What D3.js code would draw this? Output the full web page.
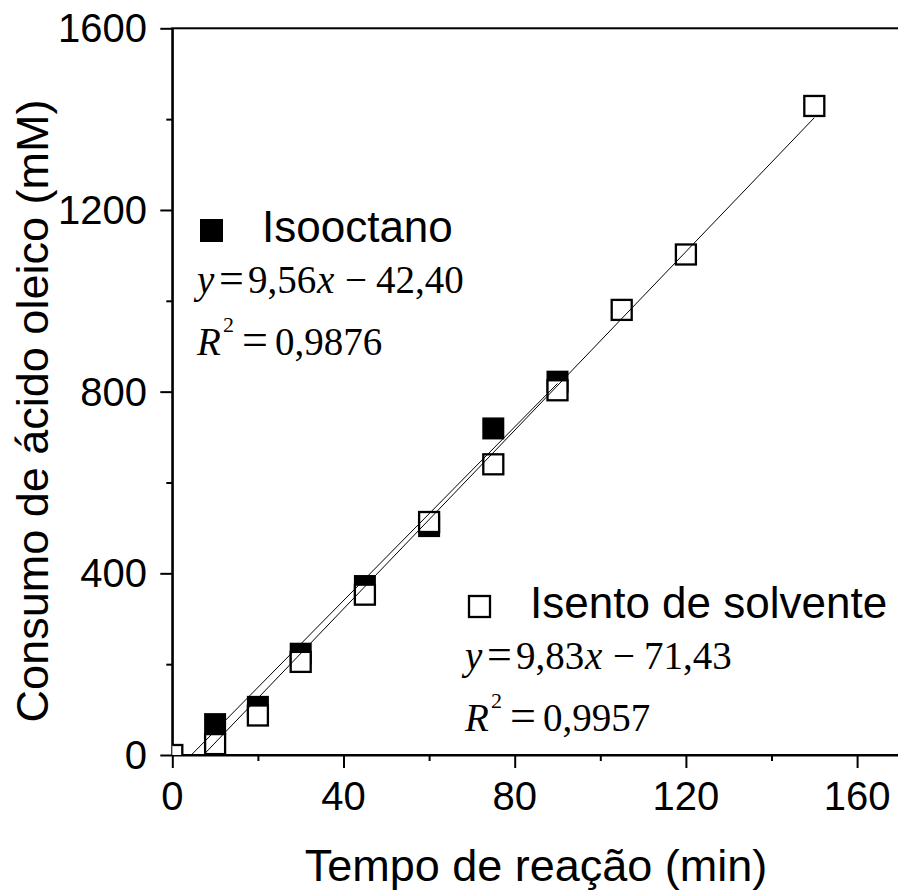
<!DOCTYPE html>
<html>
<head>
<meta charset="utf-8">
<script src="https://cdn.jsdelivr.net/npm/d3@7"></script>
<style>
    body { margin: 0; background: #fff; }
    svg { display: block; }
</style>
</head>
<body>
<div id="chart"></div>
<script>
'use strict';

// Tempo (min) e consumo de ácido oleico (mM)
var tempoIso = [10, 20, 30, 45, 60, 75, 90];
var consumoIso = [68, 106, 223, 372, 504, 719, 822];

var tempoSem = [0, 10, 20, 30, 45, 60, 75, 90, 105, 120, 150];
var consumoSem = [0, 24, 87, 205, 353, 513, 640, 803, 980, 1102, 1429];

// Ajuste linear: [inclinação, intercepto, tempo final]
var ajusteIso = [9.56, -42.40, 90];
var ajusteSem = [9.83, -71.43, 150];

var xTicks = [0, 40, 80, 120, 160];
var yTicks = [0, 400, 800, 1200, 1600];

var width = 898, height = 890;
var plotLeft = 172.3, plotRight = 899.9, plotTop = 28.3, plotBottom = 755;

var svg = d3.select("#chart")
    .append("svg")
    .attr("width", width)
    .attr("height", height);

var x = d3.scaleLinear().domain([0, 170]).range([plotLeft, plotRight]);
var y = d3.scaleLinear().domain([0, 1600]).range([plotBottom, plotTop]);

svg.append("defs").append("clipPath")
    .attr("id", "area")
    .append("rect")
    .attr("x", plotLeft).attr("y", plotTop)
    .attr("width", plotRight - plotLeft).attr("height", plotBottom - plotTop);

var sans = "'Liberation Sans', Arial, sans-serif";
var serif = "'Liberation Serif', 'Times New Roman', serif";

// frame
svg.append("rect")
    .attr("x", plotLeft).attr("y", plotTop)
    .attr("width", plotRight - plotLeft).attr("height", plotBottom - plotTop)
    .attr("fill", "none")
    .attr("stroke", "#000")
    .attr("stroke-width", 2);

// eixos
var xAxis = svg.append("g")
    .attr("transform", "translate(0," + plotBottom + ")")
    .call(d3.axisBottom(x).tickValues(d3.range(0, 171, 20)).tickSize(13).tickSizeOuter(0).tickFormat(""));
xAxis.selectAll(".tick line")
    .attr("y2", function (d) { return d % 40 === 0 ? 13 : 6; })
    .attr("stroke-width", 2);
xAxis.select(".domain").attr("stroke-width", 2);

var yAxis = svg.append("g")
    .attr("transform", "translate(" + plotLeft + ",0)")
    .call(d3.axisLeft(y).tickValues(d3.range(0, 1601, 200)).tickSize(12).tickSizeOuter(0).tickFormat(""));
yAxis.selectAll(".tick line")
    .attr("x2", function (d) { return d % 400 === 0 ? -12 : -6; })
    .attr("stroke-width", 2);
yAxis.select(".domain").attr("stroke-width", 2);

svg.append("g").selectAll("text")
    .data(xTicks)
    .enter().append("text")
    .attr("x", d => x(d))
    .attr("y", 810)
    .attr("text-anchor", "middle")
    .style("font-family", sans)
    .style("font-size", "40px")
    .text(d => d);

svg.append("g").selectAll("text")
    .data(yTicks)
    .enter().append("text")
    .attr("x", 147)
    .attr("y", d => y(d))
    .attr("dy", "0.35em")
    .attr("text-anchor", "end")
    .style("font-family", sans)
    .style("font-size", "40px")
    .text(d => d);

// títulos
svg.append("text")
    .attr("x", 536)
    .attr("y", 881)
    .attr("text-anchor", "middle")
    .style("font-family", sans)
    .style("font-size", "45px")
    .text("Tempo de reação (min)");

svg.append("text")
    .attr("transform", "translate(48,411) rotate(-90)")
    .attr("text-anchor", "middle")
    .style("font-family", sans)
    .style("font-size", "45px")
    .text("Consumo de ácido oleico (mM)");

// pontos
var plot = svg.append("g").attr("clip-path", "url(#area)");
var s = 22;

plot.append("g").selectAll("rect")
    .data(tempoIso)
    .enter().append("rect")
    .attr("x", d => x(d) - s / 2)
    .attr("y", (d, i) => y(consumoIso[i]) - s / 2)
    .attr("width", s).attr("height", s)
    .attr("fill", "#000");

plot.append("g").selectAll("rect")
    .data(tempoSem)
    .enter().append("rect")
    .attr("x", d => x(d) - s / 2 + 1)
    .attr("y", (d, i) => y(consumoSem[i]) - s / 2 + 1)
    .attr("width", s - 2).attr("height", s - 2)
    .attr("fill", "#fff")
    .attr("stroke", "#000")
    .attr("stroke-width", 2.3);

// retas de ajuste
[ajusteIso, ajusteSem].forEach(function (a) {
    plot.append("line")
        .attr("x1", x(0)).attr("y1", y(a[1]))
        .attr("x2", x(a[2])).attr("y2", y(a[0] * a[2] + a[1]))
        .attr("stroke", "#000")
        .attr("stroke-width", 1);
});

// legenda
function legenda(lx, ly, cheio, nome, eq, r2) {
    var g = svg.append("g");
    g.append("rect")
        .attr("x", lx + (cheio ? 0 : 1)).attr("y", ly - 23 + (cheio ? 0 : 1))
        .attr("width", cheio ? 23 : 21).attr("height", cheio ? 23 : 21)
        .attr("fill", cheio ? "#000" : "#fff")
        .attr("stroke", cheio ? "none" : "#000")
        .attr("stroke-width", 2.3);
    g.append("text")
        .attr("x", lx + 62).attr("y", ly)
        .style("font-family", sans)
        .style("font-size", "44px")
        .text(nome);

    var ex = lx - 3, ey = ly + 51;
    var t = g.append("text")
        .attr("y", ey)
        .style("font-family", serif)
        .style("font-size", "39px");
    t.append("tspan").attr("x", ex).style("font-style", "italic").text("y");
    t.append("tspan").attr("x", ex + 22).style("font-size", "44px").text("=");
    t.append("tspan").attr("x", ex + 51).text(eq[0]);
    t.append("tspan").attr("x", ex + 120).style("font-style", "italic").text("x");
    t.append("tspan").attr("x", ex + 148).text("\u2212");
    t.append("tspan").attr("x", ex + 179).text(eq[1]);

    var r = g.append("text")
        .attr("y", ey + 62)
        .style("font-family", serif)
        .style("font-size", "39px");
    r.append("tspan").attr("x", ex).style("font-style", "italic").text("R");
    r.append("tspan").attr("x", ex + 26).attr("dy", -23).style("font-size", "22px").text("2");
    r.append("tspan").attr("x", ex + 45).attr("dy", 23).style("font-size", "46px").text("=");
    r.append("tspan").attr("x", ex + 78).text(r2);
}

legenda(200, 242, true, "Isooctano", ["9,56", "42,40"], "0,9876");
legenda(468, 618, false, "Isento de solvente", ["9,83", "71,43"], "0,9957");
</script>
</body>
</html>
